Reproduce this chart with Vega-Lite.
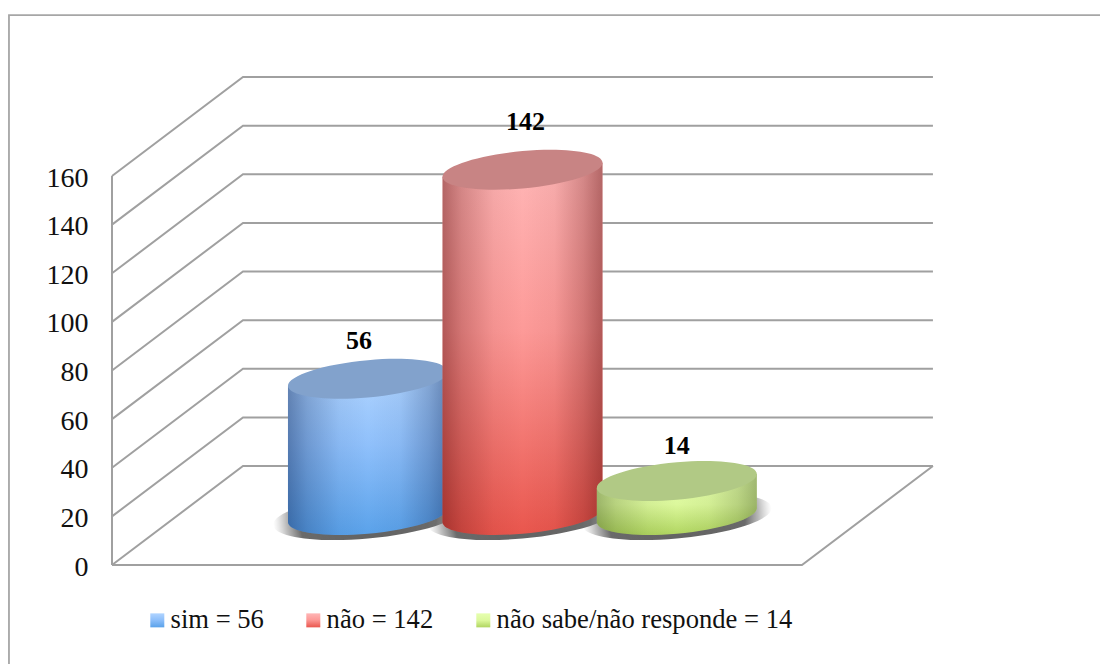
{"$schema":"https://vega.github.io/schema/vega-lite/v6.json","width":1100,"height":664,"padding":0,"autosize":{"type":"none"},"background":"white","config":{"view":{"stroke":null},"font":"Liberation Serif"},"datasets":{"answers":[{"answer":"sim = 56","value":56,"slot":1.113},{"answer":"não = 142","value":142,"slot":1.785},{"answer":"não sabe/não responde = 14","value":14,"slot":2.456}],"frame":[{"series":"frame","i":1,"x":-0.448,"y":-40.7},{"series":"frame","i":2,"x":-0.448,"y":226.2},{"series":"frame","i":3,"x":4.296,"y":226.2}],"walls":[{"series":"front","i":1,"x":0,"y":0},{"series":"front","i":2,"x":3,"y":0},{"series":"front","i":3,"x":3.5696,"y":40.7},{"series":"left","i":1,"x":0,"y":0},{"series":"left","i":2,"x":0,"y":160},{"series":"g0","i":1,"x":0,"y":0},{"series":"g0","i":2,"x":0.5696,"y":40.7},{"series":"g0","i":3,"x":3.5696,"y":40.7},{"series":"g20","i":1,"x":0,"y":20},{"series":"g20","i":2,"x":0.5696,"y":60.7},{"series":"g20","i":3,"x":3.5696,"y":60.7},{"series":"g40","i":1,"x":0,"y":40},{"series":"g40","i":2,"x":0.5696,"y":80.7},{"series":"g40","i":3,"x":3.5696,"y":80.7},{"series":"g60","i":1,"x":0,"y":60},{"series":"g60","i":2,"x":0.5696,"y":100.7},{"series":"g60","i":3,"x":3.5696,"y":100.7},{"series":"g80","i":1,"x":0,"y":80},{"series":"g80","i":2,"x":0.5696,"y":120.7},{"series":"g80","i":3,"x":3.5696,"y":120.7},{"series":"g100","i":1,"x":0,"y":100},{"series":"g100","i":2,"x":0.5696,"y":140.7},{"series":"g100","i":3,"x":3.5696,"y":140.7},{"series":"g120","i":1,"x":0,"y":120},{"series":"g120","i":2,"x":0.5696,"y":160.7},{"series":"g120","i":3,"x":3.5696,"y":160.7},{"series":"g140","i":1,"x":0,"y":140},{"series":"g140","i":2,"x":0.5696,"y":180.7},{"series":"g140","i":3,"x":3.5696,"y":180.7},{"series":"g160","i":1,"x":0,"y":160},{"series":"g160","i":2,"x":0.5696,"y":200.7},{"series":"g160","i":3,"x":3.5696,"y":200.7}]},"encoding":{"x":{"field":"slot","type":"quantitative","scale":{"domain":[-0.487,4.296],"nice":false,"zero":false},"axis":null},"y":{"field":"value","type":"quantitative","scale":{"domain":[-40.72,232.4],"nice":false,"zero":false},"axis":{"orient":"left","offset":-112,"values":[0,20,40,60,80,100,120,140,160],"domain":false,"ticks":false,"grid":false,"title":null,"labelFont":"Liberation Serif","labelFontSize":28,"labelColor":"#111111","labelPadding":24,"labelOffset":2}}},"layer":[{"data":{"name":"frame"},"mark":{"type":"line","stroke":"#a6a6a6","strokeWidth":1.8},"encoding":{"x":{"field":"x","type":"quantitative","axis":null},"y":{"field":"y","type":"quantitative","axis":{"orient":"left","offset":-112,"values":[0,20,40,60,80,100,120,140,160],"domain":false,"ticks":false,"grid":false,"title":null,"labelFont":"Liberation Serif","labelFontSize":28,"labelColor":"#111111","labelPadding":24,"labelOffset":2}},"detail":{"field":"series"},"order":{"field":"i"}}},{"data":{"name":"walls"},"mark":{"type":"line","stroke":"#a0a0a0","strokeWidth":2},"encoding":{"x":{"field":"x","type":"quantitative","axis":null},"y":{"field":"y","type":"quantitative","axis":{"orient":"left","offset":-112,"values":[0,20,40,60,80,100,120,140,160],"domain":false,"ticks":false,"grid":false,"title":null,"labelFont":"Liberation Serif","labelFontSize":28,"labelColor":"#111111","labelPadding":24,"labelOffset":2}},"detail":{"field":"series"},"order":{"field":"i"}}},{"data":{"name":"answers"},"mark":{"type":"point","filled":true,"opacity":1,"size":36000,"shape":"M1,-0.0875C1,0.0417,0.5523,0.1857,0,0.234C-0.5523,0.2823,-1,0.2167,-1,0.0875C-1,-0.0417,-0.5523,-0.1857,0,-0.234C0.5523,-0.2823,1,-0.2167,1,-0.0875Z","fill":{"gradient":"radial","x1":0.5,"y1":0.5,"r1":0,"x2":0.5,"y2":0.5,"r2":0.5,"stops":[{"offset":0,"color":"rgba(80,80,80,0.9)"},{"offset":0.72,"color":"rgba(80,80,80,0.85)"},{"offset":0.86,"color":"rgba(100,100,100,0.45)"},{"offset":1,"color":"rgba(140,140,140,0)"}]}},"encoding":{"y":{"datum":20}}},{"data":{"name":"answers"},"transform":[{"filter":"datum.value===56"}],"mark":{"type":"point","filled":true,"opacity":1,"size":25600,"yOffset":-50,"shape":"M-1,0.0875L-1,1.7892C-1,1.9184,-0.5523,1.984,0,1.9357C0.5523,1.8874,1,1.7434,1,1.6142L1,-0.0875Z"},"encoding":{"color":{"field":"answer","type":"nominal","scale":{"domain":["sim = 56","não = 142","não sabe/não responde = 14"],"range":[{"expr":"{gradient:'linear',x1:0,y1:0,x2:0,y2:1,stops:[{offset:0,color:'#b0d4ff'},{offset:0.45,color:'#8fc0fb'},{offset:1,color:'#5aa2ea'}]}"},{"expr":"{gradient:'linear',x1:0,y1:0,x2:0,y2:1,stops:[{offset:0,color:'#ffb6b6'},{offset:0.45,color:'#fd9a98'},{offset:1,color:'#e9564d'}]}"},{"expr":"{gradient:'linear',x1:0,y1:0,x2:0,y2:1,stops:[{offset:0,color:'#e6ffb0'},{offset:0.5,color:'#dcf89c'},{offset:1,color:'#b0d560'}]}"}]},"legend":{"title":null,"orient":"none","legendX":144,"legendY":607,"direction":"horizontal","columns":3,"columnPadding":36,"symbolType":"square","symbolSize":196,"symbolStrokeWidth":0,"labelFont":"Liberation Serif","labelFontSize":26.6,"labelColor":"#111111","labelOffset":0,"labelLimit":400}}}},{"data":{"name":"answers"},"transform":[{"filter":"datum.value===56"}],"mark":{"type":"point","filled":true,"opacity":1,"size":25600,"yOffset":-50,"shape":"M-1,0.0875L-1,1.7892C-1,1.9184,-0.5523,1.984,0,1.9357C0.5523,1.8874,1,1.7434,1,1.6142L1,-0.0875Z","fill":{"gradient":"linear","x1":0,"y1":0,"x2":1,"y2":0,"stops":[{"offset":0,"color":"rgba(15,40,90,0.46)"},{"offset":0.12,"color":"rgba(15,40,90,0.26)"},{"offset":0.32,"color":"rgba(15,40,90,0.06)"},{"offset":0.5,"color":"rgba(15,40,90,0)"},{"offset":0.7,"color":"rgba(15,40,90,0.05)"},{"offset":0.88,"color":"rgba(15,40,90,0.26)"},{"offset":1,"color":"rgba(15,40,90,0.46)"}]}}},{"data":{"name":"answers"},"transform":[{"filter":"datum.value===56"}],"mark":{"type":"point","filled":true,"opacity":1,"size":25600,"yOffset":-50,"fill":"#82a2cc","shape":"M1,-0.0875C1,0.0417,0.5523,0.1857,0,0.234C-0.5523,0.2823,-1,0.2167,-1,0.0875C-1,-0.0417,-0.5523,-0.1857,0,-0.234C0.5523,-0.2823,1,-0.2167,1,-0.0875Z"}},{"data":{"name":"answers"},"transform":[{"filter":"datum.value===142"}],"mark":{"type":"point","filled":true,"opacity":1,"size":25600,"yOffset":-50,"shape":"M-1,0.0875L-1,4.4025C-1,4.5317,-0.5523,4.5973,0,4.549C0.5523,4.5007,1,4.3567,1,4.2275L1,-0.0875Z"},"encoding":{"color":{"field":"answer","type":"nominal"}}},{"data":{"name":"answers"},"transform":[{"filter":"datum.value===142"}],"mark":{"type":"point","filled":true,"opacity":1,"size":25600,"yOffset":-50,"shape":"M-1,0.0875L-1,4.4025C-1,4.5317,-0.5523,4.5973,0,4.549C0.5523,4.5007,1,4.3567,1,4.2275L1,-0.0875Z","fill":{"gradient":"linear","x1":0,"y1":0,"x2":1,"y2":0,"stops":[{"offset":0,"color":"rgba(90,10,10,0.46)"},{"offset":0.12,"color":"rgba(90,10,10,0.26)"},{"offset":0.32,"color":"rgba(90,10,10,0.06)"},{"offset":0.5,"color":"rgba(90,10,10,0)"},{"offset":0.7,"color":"rgba(90,10,10,0.05)"},{"offset":0.88,"color":"rgba(90,10,10,0.26)"},{"offset":1,"color":"rgba(90,10,10,0.46)"}]}}},{"data":{"name":"answers"},"transform":[{"filter":"datum.value===142"}],"mark":{"type":"point","filled":true,"opacity":1,"size":25600,"yOffset":-50,"fill":"#c88484","shape":"M1,-0.0875C1,0.0417,0.5523,0.1857,0,0.234C-0.5523,0.2823,-1,0.2167,-1,0.0875C-1,-0.0417,-0.5523,-0.1857,0,-0.234C0.5523,-0.2823,1,-0.2167,1,-0.0875Z"}},{"data":{"name":"answers"},"transform":[{"filter":"datum.value===14"}],"mark":{"type":"point","filled":true,"opacity":1,"size":25600,"yOffset":-50,"shape":"M-1,0.0875L-1,0.5129C-1,0.6421,-0.5523,0.7077,0,0.6594C0.5523,0.6111,1,0.4671,1,0.3379L1,-0.0875Z"},"encoding":{"color":{"field":"answer","type":"nominal"}}},{"data":{"name":"answers"},"transform":[{"filter":"datum.value===14"}],"mark":{"type":"point","filled":true,"opacity":1,"size":25600,"yOffset":-50,"shape":"M-1,0.0875L-1,0.5129C-1,0.6421,-0.5523,0.7077,0,0.6594C0.5523,0.6111,1,0.4671,1,0.3379L1,-0.0875Z","fill":{"gradient":"linear","x1":0,"y1":0,"x2":1,"y2":0,"stops":[{"offset":0,"color":"rgba(40,60,10,0.36)"},{"offset":0.12,"color":"rgba(40,60,10,0.2)"},{"offset":0.32,"color":"rgba(40,60,10,0.05)"},{"offset":0.5,"color":"rgba(40,60,10,0)"},{"offset":0.7,"color":"rgba(40,60,10,0.05)"},{"offset":0.88,"color":"rgba(40,60,10,0.2)"},{"offset":1,"color":"rgba(40,60,10,0.36)"}]}}},{"data":{"name":"answers"},"transform":[{"filter":"datum.value===14"}],"mark":{"type":"point","filled":true,"opacity":1,"size":25600,"yOffset":-50,"fill":"#b1c985","shape":"M1,-0.0875C1,0.0417,0.5523,0.1857,0,0.234C-0.5523,0.2823,-1,0.2167,-1,0.0875C-1,-0.0417,-0.5523,-0.1857,0,-0.234C0.5523,-0.2823,1,-0.2167,1,-0.0875Z"}},{"data":{"name":"answers"},"transform":[{"filter":"datum.value===56"}],"mark":{"type":"text","font":"Liberation Serif","fontSize":26,"fontWeight":"bold","color":"#000000","baseline":"middle","dy":-88,"dx":-9},"encoding":{"text":{"field":"value","type":"quantitative"}}},{"data":{"name":"answers"},"transform":[{"filter":"datum.value===142"}],"mark":{"type":"text","font":"Liberation Serif","fontSize":26,"fontWeight":"bold","color":"#000000","baseline":"middle","dy":-98,"dx":3},"encoding":{"text":{"field":"value","type":"quantitative"}}},{"data":{"name":"answers"},"transform":[{"filter":"datum.value===14"}],"mark":{"type":"text","font":"Liberation Serif","fontSize":26,"fontWeight":"bold","color":"#000000","baseline":"middle","dy":-85},"encoding":{"text":{"field":"value","type":"quantitative"}}}]}
